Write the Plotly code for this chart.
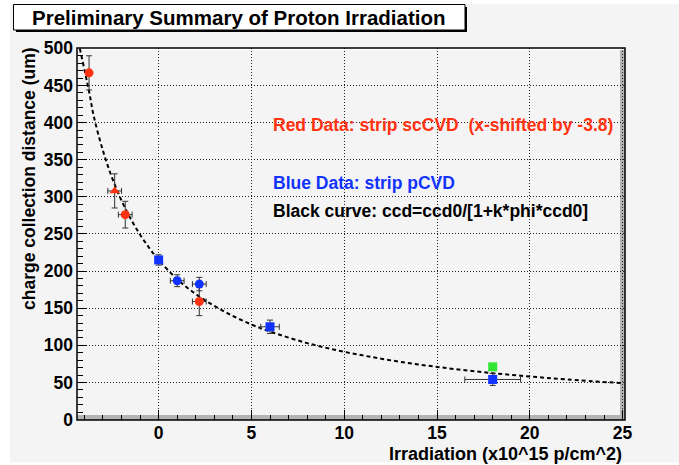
import plotly.graph_objects as go

# ---------------- data ----------------
red_x = [-3.75, -2.37, -1.80, 2.19]
red_y = [467, 308, 276, 159]
red_ex = [0.0, 0.37, 0.37, 0.37]
red_ey = [23, 23, 18, 19]
red_symbols = ["circle", "triangle-up", "circle", "circle"]

blue_x = [0.0, 1.0, 2.19, 6.0, 18.0]
blue_y = [215, 187, 182.5, 125, 54]
blue_ex = [0.0, 0.37, 0.37, 0.5, 1.5]
blue_ey = [7, 8, 9, 9, 8]
blue_symbols = ["square", "circle", "circle", "square", "square"]

green_x = [18.0]
green_y = [71]

curve_x = [-4.25, -3.75, -3.5, -3.0, -2.5, -2.0, -1.5, -1.0, -0.5, 0.0, 1.0, 2.0, 3.0,
           4.0, 5.0, 6.0, 8.0, 10.0, 12.0, 14.0, 16.0, 18.0, 20.0, 22.0, 25.0]
curve_y = [500, 442, 409, 362, 325, 295, 270, 249, 231, 215, 189, 169, 153,
           139.5, 128, 118.6, 103, 91.3, 81.9, 74.2, 67.9, 62.5, 58, 54, 49]

x_ticks = [0, 5, 10, 15, 20, 25]
y_ticks = [0, 50, 100, 150, 200, 250, 300, 350, 400, 450, 500]

title_text = "Preliminary Summary of Proton Irradiation"
x_title = "Irradiation (x10^15 p/cm^2)"
y_title = "charge collection distance (um)"
label_red = "Red Data: strip scCVD  (x-shifted by -3.8)"
label_blue = "Blue Data: strip pCVD"
label_black = "Black curve: ccd=ccd0/[1+k*phi*ccd0]"

# ---------------- layout geometry (pixels) ----------------
W, H = 679, 465
L, R, T, B = 77, 625, 48, 420


def px(x):
    return (x - L) / (R - L)


def py(y):
    return (B - y) / (B - T)


RED = "#ff3311"
BLUE = "#1133ff"
GREEN = "#33e633"
FONT = "Liberation Sans"

fig = go.Figure()

fig.add_trace(go.Scatter(
    x=curve_x, y=curve_y, mode="lines", line_shape="spline",
    line=dict(color="black", width=2, dash="4px,3px"), hoverinfo="skip"))

err_style = dict(color="#333333", thickness=1, width=3)
fig.add_trace(go.Scatter(
    x=red_x, y=red_y, mode="markers",
    marker=dict(color=RED, size=9, symbol=red_symbols),
    error_x=dict(type="data", array=red_ex, **err_style),
    error_y=dict(type="data", array=red_ey, **err_style)))
fig.add_trace(go.Scatter(
    x=blue_x, y=blue_y, mode="markers",
    marker=dict(color=BLUE, size=9, symbol=blue_symbols),
    error_x=dict(type="data", array=blue_ex, **err_style),
    error_y=dict(type="data", array=blue_ey, **err_style)))
fig.add_trace(go.Scatter(
    x=green_x, y=green_y, mode="markers",
    marker=dict(color=GREEN, size=9, symbol="square")))

shapes = [
    # canvas grey area
    dict(type="rect", xref="paper", yref="paper", layer="below",
         x0=px(10), x1=px(679), y0=py(462.5), y1=py(4),
         fillcolor="#f4f4f4", line=dict(width=0)),
    # frame bevel: dark right & bottom
    dict(type="rect", xref="x domain", yref="y domain", layer="below",
         x0=1 - 5 / (R - L), x1=1, y0=0, y1=1 - 2 / (B - T),
         fillcolor="#b4b4b4", line=dict(width=0)),
    dict(type="rect", xref="x domain", yref="y domain", layer="below",
         x0=0, x1=1, y0=0, y1=5 / (B - T),
         fillcolor="#b4b4b4", line=dict(width=0)),
    # frame bevel: light top
    dict(type="rect", xref="x domain", yref="y domain", layer="below",
         x0=0, x1=1 - 5 / (R - L), y0=1 - 2 / (B - T), y1=1,
         fillcolor="#ffffff", line=dict(width=0)),
    # frame outline
    dict(type="rect", xref="x domain", yref="y domain", layer="above",
         x0=0, x1=1, y0=0, y1=1, line=dict(color="black", width=1.5)),
    # title box shadow
    dict(type="rect", xref="paper", yref="paper",
         x0=px(16), x1=px(467), y0=py(32), y1=py(7),
         fillcolor="black", line=dict(width=0)),
    # title box
    dict(type="rect", xref="paper", yref="paper",
         x0=px(13.5), x1=px(465), y0=py(30), y1=py(4.5),
         fillcolor="white", line=dict(color="black", width=1)),
]

tickfont = dict(family=FONT, size=17.5, color="black", weight="bold")

annotations = [
    dict(text=title_text, xref="paper", yref="paper", x=px(238.5), y=py(17.5),
         xanchor="center", yanchor="middle", showarrow=False,
         font=dict(family=FONT, size=20.5, color="black", weight="bold")),
    dict(text=x_title, xref="paper", yref="paper", x=px(624), y=py(454),
         xanchor="right", yanchor="middle", showarrow=False,
         font=dict(family=FONT, size=18, color="black", weight="bold")),
    dict(text=y_title, xref="paper", yref="paper", x=px(29), y=py(179),
         xanchor="center", yanchor="middle", showarrow=False, textangle=-90,
         font=dict(family=FONT, size=17.5, color="black", weight="bold")),
    dict(text=label_red, xref="paper", yref="paper", x=px(271), y=py(124.5),
         xanchor="left", yanchor="middle", showarrow=False,
         font=dict(family=FONT, size=17.5, color=RED, weight="bold")),
    dict(text=label_blue, xref="paper", yref="paper", x=px(271), y=py(182.5),
         xanchor="left", yanchor="middle", showarrow=False,
         font=dict(family=FONT, size=17.5, color=BLUE, weight="bold")),
    dict(text=label_black, xref="paper", yref="paper", x=px(271), y=py(211),
         xanchor="left", yanchor="middle", showarrow=False,
         font=dict(family=FONT, size=17.5, color="black", weight="bold")),
]

fig.update_layout(
    width=W, height=H, autosize=False,
    margin=dict(l=L, r=W - R, t=T, b=H - B, pad=0),
    paper_bgcolor="white", plot_bgcolor="#f4f4f4",
    showlegend=False,
    shapes=shapes, annotations=annotations,
    xaxis=dict(range=[-4.4, 25.13], tickvals=x_ticks, ticktext=[str(v) for v in x_ticks],
               ticks="inside", ticklen=10, tickcolor="black", tickwidth=1,
               showgrid=True, gridcolor="#222222", griddash="1px,2px", gridwidth=1,
               zeroline=False, showline=False, tickfont=tickfont, ticklabelstandoff=0,
               minor=dict(dtick=1, tick0=0, ticks="inside", ticklen=5,
                          tickcolor="black", showgrid=False)),
    yaxis=dict(range=[-0.6, 500.5], tickvals=y_ticks, ticktext=[str(v) for v in y_ticks],
               ticks="inside", ticklen=10, tickcolor="black", tickwidth=1,
               showgrid=True, gridcolor="#222222", griddash="1px,2px", gridwidth=1,
               zeroline=False, showline=False, tickfont=tickfont, ticklabelstandoff=3,
               minor=dict(dtick=10, tick0=0, ticks="inside", ticklen=6,
                          tickcolor="black", showgrid=False)),
)

fig.write_html("out.html", config={"displayModeBar": False, "staticPlot": True},
               post_script="document.body.style.margin='0px';document.body.style.overflow='hidden';")
